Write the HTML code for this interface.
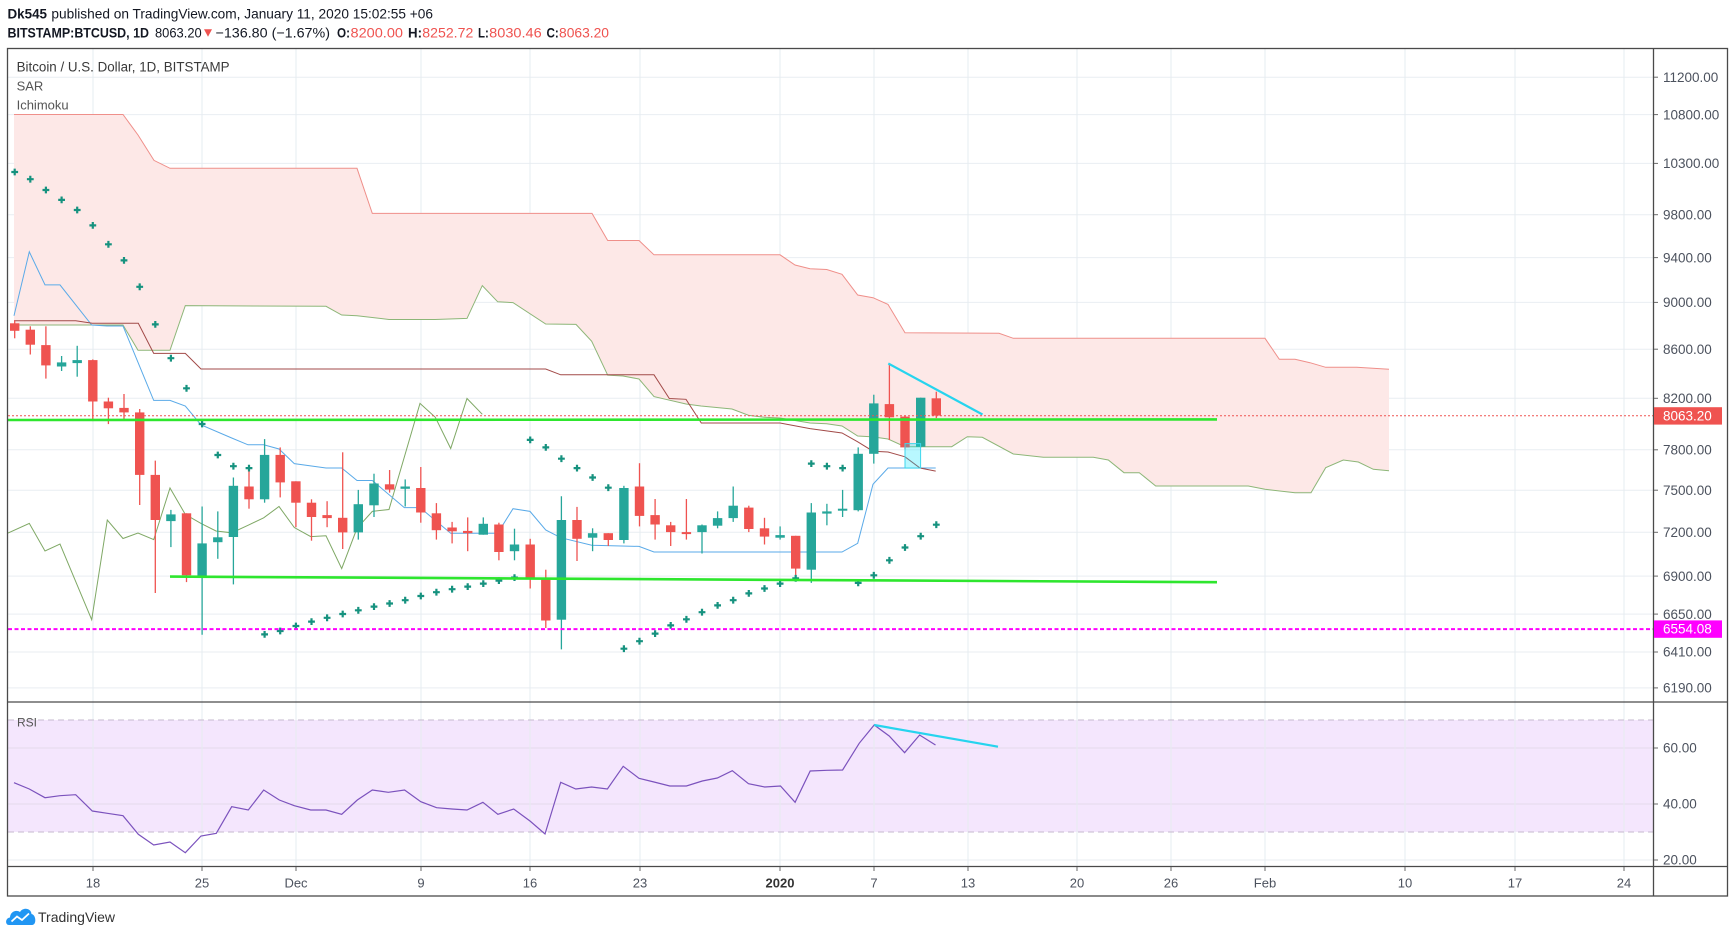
<!DOCTYPE html>
<html><head><meta charset="utf-8">
<style>
html,body{margin:0;padding:0;background:#fff;}
svg{display:block;}
.r line{stroke:#ef5350;stroke-width:1.3}
.r rect{fill:#ef5350}
.g line{stroke:#26a69a;stroke-width:1.3}
.g rect{fill:#26a69a}
.pl{font-size:13.5px;fill:#4c525e}
.tl{font-size:13px;fill:#4c525e;text-anchor:middle}
</style></head><body>
<svg width="1735" height="937" viewBox="0 0 1735 937" xmlns="http://www.w3.org/2000/svg" xmlns:xlink="http://www.w3.org/1999/xlink" font-family="'Liberation Sans', sans-serif">
<defs>
<clipPath id="cm"><rect x="8" y="49" width="1645.5" height="653"/></clipPath>
<clipPath id="cr"><rect x="8" y="702" width="1645.5" height="164.5"/></clipPath>
<path id="c" d="M-3.4,0h6.8M0,-3.4v6.8" stroke="#16927f" stroke-width="2.2" fill="none"/>
</defs>
<rect width="1735" height="937" fill="#fff"/>

<!-- header -->
<text x="7.5" y="18.5" font-size="14" font-weight="bold" fill="#131722" textLength="39.5" lengthAdjust="spacingAndGlyphs">Dk545</text>
<text x="51.4" y="18.5" font-size="14" fill="#131722" textLength="381.6" lengthAdjust="spacingAndGlyphs">published on TradingView.com, January 11, 2020 15:02:55 +06</text>
<g font-size="14">
<text x="7.5" y="37.5" font-weight="bold" fill="#131722" textLength="141.5" lengthAdjust="spacingAndGlyphs">BITSTAMP:BTCUSD, 1D</text>
<text x="155" y="37.5" fill="#131722" textLength="46.7" lengthAdjust="spacingAndGlyphs">8063.20</text>
<polygon points="204,29.3 212,29.3 208,36.8" fill="#ef5350"/>
<text x="215.5" y="37.5" fill="#131722" textLength="114.5" lengthAdjust="spacingAndGlyphs">−136.80 (−1.67%)</text>
<text x="337" y="37.5" font-weight="bold" fill="#131722" textLength="13" lengthAdjust="spacingAndGlyphs">O:</text>
<text x="350.5" y="37.5" fill="#ef5350" textLength="52.5" lengthAdjust="spacingAndGlyphs">8200.00</text>
<text x="408" y="37.5" font-weight="bold" fill="#131722" textLength="14" lengthAdjust="spacingAndGlyphs">H:</text>
<text x="422.3" y="37.5" fill="#ef5350" textLength="51" lengthAdjust="spacingAndGlyphs">8252.72</text>
<text x="478" y="37.5" font-weight="bold" fill="#131722" textLength="10.8" lengthAdjust="spacingAndGlyphs">L:</text>
<text x="489.2" y="37.5" fill="#ef5350" textLength="52.5" lengthAdjust="spacingAndGlyphs">8030.46</text>
<text x="546.5" y="37.5" font-weight="bold" fill="#131722" textLength="12.3" lengthAdjust="spacingAndGlyphs">C:</text>
<text x="559" y="37.5" fill="#ef5350" textLength="50" lengthAdjust="spacingAndGlyphs">8063.20</text>
</g>

<!-- gridlines -->
<g stroke="#e9eef2" stroke-width="1">
<line x1="8" x2="1653" y1="77.2" y2="77.2"/>
<line x1="8" x2="1653" y1="114.6" y2="114.6"/>
<line x1="8" x2="1653" y1="163.4" y2="163.4"/>
<line x1="8" x2="1653" y1="214.7" y2="214.7"/>
<line x1="8" x2="1653" y1="257.6" y2="257.6"/>
<line x1="8" x2="1653" y1="302.4" y2="302.4"/>
<line x1="8" x2="1653" y1="349.2" y2="349.2"/>
<line x1="8" x2="1653" y1="398.3" y2="398.3"/>
<line x1="8" x2="1653" y1="449.8" y2="449.8"/>
<line x1="8" x2="1653" y1="490.2" y2="490.2"/>
<line x1="8" x2="1653" y1="532.3" y2="532.3"/>
<line x1="8" x2="1653" y1="576.1" y2="576.1"/>
<line x1="8" x2="1653" y1="614.1" y2="614.1"/>
<line x1="8" x2="1653" y1="652" y2="652"/>
<line x1="8" x2="1653" y1="687.9" y2="687.9"/>
</g>

<!-- RSI band -->
<rect x="8" y="720" width="1645" height="112" fill="#f4e6fd"/>
<g stroke="#e3daea" stroke-width="1">
<line x1="8" x2="1653" y1="748" y2="748"/>
<line x1="8" x2="1653" y1="804" y2="804"/>
</g>
<line x1="8" x2="1653" y1="860" y2="860" stroke="#e9eef2"/>

<g stroke="#e6ecf0" stroke-width="1">
<line x1="93" x2="93" y1="49" y2="866"/>
<line x1="202" x2="202" y1="49" y2="866"/>
<line x1="296" x2="296" y1="49" y2="866"/>
<line x1="421" x2="421" y1="49" y2="866"/>
<line x1="530" x2="530" y1="49" y2="866"/>
<line x1="640" x2="640" y1="49" y2="866"/>
<line x1="780" x2="780" y1="49" y2="866"/>
<line x1="874" x2="874" y1="49" y2="866"/>
<line x1="968" x2="968" y1="49" y2="866"/>
<line x1="1077" x2="1077" y1="49" y2="866"/>
<line x1="1171" x2="1171" y1="49" y2="866"/>
<line x1="1265" x2="1265" y1="49" y2="866"/>
<line x1="1405" x2="1405" y1="49" y2="866"/>
<line x1="1515" x2="1515" y1="49" y2="866"/>
<line x1="1624" x2="1624" y1="49" y2="866"/>
</g>
<g stroke="#c6bacf" stroke-width="1" stroke-dasharray="6 4">
<line x1="8" x2="1653" y1="720" y2="720"/>
<line x1="8" x2="1653" y1="832" y2="832"/>
</g>

<g clip-path="url(#cm)">
<!-- cloud -->
<polygon fill="#fde8e7" points="14,114.5 123,114.5 138,135 154,160.4 170,168.3 357,168.3 372.3,213.4 592,213.4 607.7,240.5 639,240.5 654,254.8 780,254.8 795,265 810,268.7 826.7,269.5 842,274.3 857.7,295 873,297.7 888,304.4 905,332.7 999,333.3 1013.3,338.3 1265,338.3 1279.3,359.3 1295,359.3 1310,362.7 1325.7,367.3 1356.7,367.3 1389,369.3 1389,470.7 1373.3,469.3 1358.3,462 1343.3,460 1325.7,467.7 1311,492.7 1295,492.7 1265,489.3 1248.3,486 1155.7,486 1139.3,472.7 1124,472.7 1108.3,460 1093.3,457.3 1043.3,457.3 1013.3,454 982.3,437.3 967.3,436.7 951.7,446.7 905,446.7 888,439 873,436.9 857.7,436 842,426 826.7,423.7 810,423 780,418 764,417.3 748.7,415.4 732,409 701,406 686,404 654,396.6 639,379 623,376 607.7,375.2 591.7,341.3 576,324.4 545.7,324 513,302.6 497.7,301.8 482.3,285.6 467,318.4 435,319.5 389,319.5 357,315.7 341.7,315 326,306.3 185.3,305.6 170,350.3 138,350.3 123,325 14,325"/>
<polyline fill="none" stroke="#ef8f8a" stroke-width="1" points="14,114.5 123,114.5 138,135 154,160.4 170,168.3 357,168.3 372.3,213.4 592,213.4 607.7,240.5 639,240.5 654,254.8 780,254.8 795,265 810,268.7 826.7,269.5 842,274.3 857.7,295 873,297.7 888,304.4 905,332.7 999,333.3 1013.3,338.3 1265,338.3 1279.3,359.3 1295,359.3 1310,362.7 1325.7,367.3 1356.7,367.3 1389,369.3"/>
<polyline fill="none" stroke="#8db678" stroke-width="1" points="14,325 123,325 138,350.3 170,350.3 185.3,305.6 326,306.3 341.7,315 357,315.7 389,319.5 435,319.5 467,318.4 482.3,285.6 497.7,301.8 513,302.6 545.7,324 576,324.4 591.7,341.3 607.7,375.2 623,376 639,379 654,396.6 686,404 701,406 732,409 748.7,415.4 764,417.3 780,418 810,423 826.7,423.7 842,426 857.7,436 873,436.9 888,439 905,446.7 951.7,446.7 967.3,436.7 982.3,437.3 1013.3,454 1043.3,457.3 1093.3,457.3 1108.3,460 1124,472.7 1139.3,472.7 1155.7,486 1248.3,486 1265,489.3 1295,492.7 1311,492.7 1325.7,467.7 1343.3,460 1358.3,462 1373.3,469.3 1389,470.7"/>
<!-- chikou -->
<polyline fill="none" stroke="#7fa865" stroke-width="1" points="8,533 29.3,523.4 45,551 60,544 91.7,619.7 107.3,520 123,538.5 138,533 153.7,539.6 170,488 185.3,514.4 201,523.4 216,531 231.7,532.8 248,525.3 263.7,517.8 279,506.5 294.3,527.5 310.7,536.6 326,535.8 341.7,568.6 357,528.3 372.3,511.4 389,509.5 420,403.4 435.3,417.3 450.7,448.5 467,398.5 482.3,414.3"/>
<!-- tenkan -->
<polyline fill="none" stroke="#5aaae8" stroke-width="1" points="14,315.7 29.3,251.8 45,284.9 60,284.9 91.7,325 107,326 123,326 153.7,400.4 170,400.4 185.3,406 201,424.8 231.7,438 248,444.8 263.7,444.8 279,449 294.3,463.6 326,468 341.7,468 357,480.5 372.3,480.5 404.3,507.6 420,507.6 450.7,533.2 497.7,533.2 513,508.7 530,511.4 545.7,530 560.7,537.7 591.7,545.2 639,546.4 654,552 842,552 857.7,543.3 873,484.3 888,468 935.7,468"/>
<!-- kijun -->
<polyline fill="none" stroke="#a24a48" stroke-width="1" points="14,320.7 75.7,320.7 92.3,323.3 138.3,323.3 153.7,353.4 185.3,353.4 201,369 545.7,369 560.7,374.8 654,374.8 669.3,398.5 686,399.3 701.3,423 780,423 810,428.6 842,433 857.7,441.8 873,451.2 888,452 905,456.8 920,468 935.7,471.1"/>

<!-- candles red -->
<g class="r">
<line x1="14.7" x2="14.7" y1="320.2" y2="338.3"/><rect x="10" y="323.3" width="9.4" height="7.5"/>
<line x1="30.3" x2="30.3" y1="326.3" y2="354.5"/><rect x="25.6" y="329.7" width="9.4" height="15"/>
<line x1="45.9" x2="45.9" y1="326.3" y2="378.6"/><rect x="41.2" y="345.1" width="9.4" height="20.3"/>
<line x1="92.8" x2="92.8" y1="359.4" y2="421.1"/><rect x="88.1" y="360.1" width="9.4" height="41.4"/>
<line x1="108.4" x2="108.4" y1="397.7" y2="424.1"/><rect x="103.7" y="401.5" width="9.4" height="6.8"/>
<line x1="124" x2="124" y1="394" y2="419.9"/><rect x="119.3" y="407.9" width="9.4" height="4.5"/>
<line x1="139.7" x2="139.7" y1="409" y2="505"/><rect x="135" y="412.4" width="9.4" height="62.5"/>
<line x1="155.3" x2="155.3" y1="460.6" y2="593"/><rect x="150.6" y="474.9" width="9.4" height="45.1"/>
<line x1="186.5" x2="186.5" y1="513.3" y2="582.1"/><rect x="181.8" y="513.3" width="9.4" height="62"/>
<line x1="249" x2="249" y1="468.1" y2="508.7"/><rect x="244.3" y="486.5" width="9.4" height="12.8"/>
<line x1="280.2" x2="280.2" y1="447.4" y2="497.4"/><rect x="275.5" y="454.9" width="9.4" height="27.5"/>
<line x1="295.9" x2="295.9" y1="481.3" y2="527.2"/><rect x="291.2" y="481.3" width="9.4" height="21.4"/>
<line x1="311.5" x2="311.5" y1="499.3" y2="540.7"/><rect x="306.8" y="502.7" width="9.4" height="14.3"/>
<line x1="327.1" x2="327.1" y1="501.2" y2="527.2"/><rect x="322.4" y="515.1" width="9.4" height="3"/>
<line x1="342.7" x2="342.7" y1="452.3" y2="549"/><rect x="338" y="517.8" width="9.4" height="14.6"/>
<line x1="389.6" x2="389.6" y1="470" y2="492.6"/><rect x="384.9" y="484.3" width="9.4" height="5.3"/>
<line x1="420.8" x2="420.8" y1="467" y2="522.7"/><rect x="416.1" y="488" width="9.4" height="24.5"/>
<line x1="436.4" x2="436.4" y1="503.1" y2="539.6"/><rect x="431.7" y="513.3" width="9.4" height="16.9"/>
<line x1="452.1" x2="452.1" y1="521.9" y2="543.4"/><rect x="447.4" y="527.5" width="9.4" height="3.8"/>
<line x1="467.7" x2="467.7" y1="517.4" y2="551.2"/><rect x="463" y="530.9" width="9.4" height="2.3"/>
<line x1="498.9" x2="498.9" y1="522.7" y2="560.3"/><rect x="494.2" y="524.5" width="9.4" height="27.5"/>
<line x1="530.2" x2="530.2" y1="538.8" y2="588.5"/><rect x="525.5" y="544.5" width="9.4" height="33.1"/>
<line x1="545.8" x2="545.8" y1="569.7" y2="628"/><rect x="541.1" y="579.1" width="9.4" height="41.4"/>
<line x1="577" x2="577" y1="506.9" y2="561"/><rect x="572.3" y="520" width="9.4" height="18.8"/>
<line x1="608.3" x2="608.3" y1="533.2" y2="546"/><rect x="603.6" y="533.2" width="9.4" height="6.8"/>
<line x1="639.5" x2="639.5" y1="463.2" y2="526.4"/><rect x="634.8" y="486.5" width="9.4" height="29.4"/>
<line x1="655.1" x2="655.1" y1="499" y2="539.6"/><rect x="650.4" y="515.1" width="9.4" height="9.4"/>
<line x1="670.7" x2="670.7" y1="521.9" y2="546"/><rect x="666" y="525.3" width="9.4" height="6.8"/>
<line x1="686.4" x2="686.4" y1="499" y2="539.6"/><rect x="681.7" y="532.1" width="9.4" height="2"/>
<line x1="748.8" x2="748.8" y1="505.7" y2="532.1"/><rect x="744.1" y="507.6" width="9.4" height="21.4"/>
<line x1="764.5" x2="764.5" y1="517.8" y2="544.5"/><rect x="759.8" y="528.3" width="9.4" height="8.3"/>
<line x1="795.7" x2="795.7" y1="535.8" y2="579.1"/><rect x="791" y="535.8" width="9.4" height="32.8"/>
<line x1="889.4" x2="889.4" y1="363.5" y2="439.9"/><rect x="884.7" y="404.1" width="9.4" height="13.2"/>
<line x1="905" x2="905" y1="415.4" y2="449.3"/><rect x="900.3" y="416.6" width="9.4" height="30.8"/>
<line x1="936.3" x2="936.3" y1="391.7" y2="418.1"/><rect x="931.6" y="398.3" width="9.4" height="17.3"/>
</g>
<!-- candles green -->
<g class="g">
<line x1="61.6" x2="61.6" y1="356" y2="371"/><rect x="56.9" y="362.4" width="9.4" height="4.1"/>
<line x1="77.2" x2="77.2" y1="345.8" y2="376.7"/><rect x="72.5" y="360.1" width="9.4" height="3"/>
<line x1="170.9" x2="170.9" y1="509.9" y2="547.1"/><rect x="166.2" y="514.4" width="9.4" height="6.7"/>
<line x1="202.1" x2="202.1" y1="506.5" y2="634.8"/><rect x="197.4" y="543.4" width="9.4" height="32.7"/>
<line x1="217.8" x2="217.8" y1="511.4" y2="558.8"/><rect x="213.1" y="537.3" width="9.4" height="4.9"/>
<line x1="233.4" x2="233.4" y1="477.5" y2="584.4"/><rect x="228.7" y="485.8" width="9.4" height="51.2"/>
<line x1="264.6" x2="264.6" y1="439.1" y2="502.7"/><rect x="259.9" y="454.9" width="9.4" height="44.4"/>
<line x1="358.3" x2="358.3" y1="489.9" y2="539.6"/><rect x="353.6" y="504.2" width="9.4" height="28.2"/>
<line x1="374" x2="374" y1="473.7" y2="517"/><rect x="369.3" y="483.5" width="9.4" height="21.8"/>
<line x1="405.2" x2="405.2" y1="479.4" y2="506.5"/><rect x="400.5" y="486.5" width="9.4" height="2.3"/>
<line x1="483.3" x2="483.3" y1="517.4" y2="534.7"/><rect x="478.6" y="523.8" width="9.4" height="10.9"/>
<line x1="514.5" x2="514.5" y1="528.7" y2="560.3"/><rect x="509.8" y="544.5" width="9.4" height="6.7"/>
<line x1="561.4" x2="561.4" y1="496.3" y2="649.4"/><rect x="556.7" y="520" width="9.4" height="99.7"/>
<line x1="592.6" x2="592.6" y1="528.3" y2="551.2"/><rect x="587.9" y="533.2" width="9.4" height="4.5"/>
<line x1="623.9" x2="623.9" y1="485.8" y2="543.4"/><rect x="619.2" y="488" width="9.4" height="52"/>
<line x1="702" x2="702" y1="524.5" y2="553.5"/><rect x="697.3" y="525.3" width="9.4" height="6.8"/>
<line x1="717.6" x2="717.6" y1="511.4" y2="528.3"/><rect x="712.9" y="518.1" width="9.4" height="7.6"/>
<line x1="733.2" x2="733.2" y1="486.5" y2="521.9"/><rect x="728.5" y="505.7" width="9.4" height="12.4"/>
<line x1="780.1" x2="780.1" y1="526.4" y2="539.6"/><rect x="775.4" y="535.1" width="9.4" height="2.6"/>
<line x1="811.3" x2="811.3" y1="503.1" y2="582.9"/><rect x="806.6" y="512.5" width="9.4" height="57.2"/>
<line x1="826.9" x2="826.9" y1="503.8" y2="525.3"/><rect x="822.2" y="511.4" width="9.4" height="2.2"/>
<line x1="842.6" x2="842.6" y1="489.9" y2="517"/><rect x="837.9" y="508.7" width="9.4" height="2"/>
<line x1="858.2" x2="858.2" y1="447.4" y2="511.4"/><rect x="853.5" y="453.8" width="9.4" height="56.4"/>
<line x1="873.8" x2="873.8" y1="394.7" y2="463.6"/><rect x="869.1" y="403.4" width="9.4" height="50.4"/>
<line x1="920.7" x2="920.7" y1="397.7" y2="447.4"/><rect x="916" y="397.7" width="9.4" height="49"/>
</g>

<!-- SAR -->
<g>
<use xlink:href="#c" x="14.7" y="172"/><use xlink:href="#c" x="30.3" y="179.2"/><use xlink:href="#c" x="45.9" y="190"/><use xlink:href="#c" x="61.6" y="199.9"/><use xlink:href="#c" x="77.2" y="210"/><use xlink:href="#c" x="92.8" y="225.4"/><use xlink:href="#c" x="108.4" y="244.3"/><use xlink:href="#c" x="124" y="260.4"/><use xlink:href="#c" x="139.7" y="286.8"/><use xlink:href="#c" x="155.3" y="324.4"/><use xlink:href="#c" x="170.9" y="358.2"/><use xlink:href="#c" x="186.5" y="388.3"/><use xlink:href="#c" x="202.1" y="424"/><use xlink:href="#c" x="217.8" y="455"/><use xlink:href="#c" x="233.4" y="466.2"/><use xlink:href="#c" x="249" y="468.1"/>
<use xlink:href="#c" x="264.6" y="634.4"/><use xlink:href="#c" x="280.2" y="631"/><use xlink:href="#c" x="295.9" y="626"/><use xlink:href="#c" x="311.5" y="621.6"/><use xlink:href="#c" x="327.1" y="617.8"/><use xlink:href="#c" x="342.7" y="614"/><use xlink:href="#c" x="358.3" y="610.3"/><use xlink:href="#c" x="374" y="606.6"/><use xlink:href="#c" x="389.6" y="603.5"/><use xlink:href="#c" x="405.2" y="600.2"/><use xlink:href="#c" x="420.8" y="596"/><use xlink:href="#c" x="436.4" y="592.2"/><use xlink:href="#c" x="452.1" y="589.2"/><use xlink:href="#c" x="467.7" y="586.6"/><use xlink:href="#c" x="483.3" y="583.6"/><use xlink:href="#c" x="498.9" y="580.6"/><use xlink:href="#c" x="514.5" y="577.6"/>
<use xlink:href="#c" x="530.2" y="439.9"/><use xlink:href="#c" x="545.8" y="447.4"/><use xlink:href="#c" x="561.4" y="458.7"/><use xlink:href="#c" x="577" y="468.1"/><use xlink:href="#c" x="592.6" y="477.5"/><use xlink:href="#c" x="608.3" y="487.7"/>
<use xlink:href="#c" x="623.9" y="648.7"/><use xlink:href="#c" x="639.5" y="641.2"/><use xlink:href="#c" x="655.1" y="633.6"/><use xlink:href="#c" x="670.7" y="625.4"/><use xlink:href="#c" x="686.4" y="619.3"/><use xlink:href="#c" x="702" y="612.2"/><use xlink:href="#c" x="717.6" y="605.4"/><use xlink:href="#c" x="733.2" y="600.2"/><use xlink:href="#c" x="748.8" y="593.4"/><use xlink:href="#c" x="764.5" y="588.5"/><use xlink:href="#c" x="780.1" y="583.6"/><use xlink:href="#c" x="795.7" y="578.3"/>
<use xlink:href="#c" x="811.3" y="463.6"/><use xlink:href="#c" x="826.9" y="466.2"/><use xlink:href="#c" x="842.6" y="468.1"/>
<use xlink:href="#c" x="858.2" y="582.9"/><use xlink:href="#c" x="873.8" y="575.3"/><use xlink:href="#c" x="889.4" y="560.3"/><use xlink:href="#c" x="905" y="547.5"/><use xlink:href="#c" x="920.7" y="536.2"/><use xlink:href="#c" x="936.3" y="524.7"/>
</g>

<!-- drawings -->
<rect x="905" y="443.6" width="15.6" height="24.5" fill="rgba(0,229,255,0.28)" stroke="#3fd6ec" stroke-width="1"/>
<line x1="8" y1="420" x2="1217" y2="419.4" stroke="#2ee62e" stroke-width="2.6"/>
<line x1="170" y1="576.6" x2="1217" y2="582.2" stroke="#2ee62e" stroke-width="2.6"/>
<line x1="888.3" y1="363.5" x2="982.5" y2="414.5" stroke="#26d4ee" stroke-width="2.2"/>
<line x1="8" y1="629.1" x2="1653" y2="629.1" stroke="#ff00ff" stroke-width="2" stroke-dasharray="4 2.5"/>
<line x1="8" y1="415.8" x2="1653" y2="415.8" stroke="#ef5350" stroke-width="1" stroke-dasharray="2 2"/>
</g>

<!-- legend -->
<text x="16.6" y="71.5" font-size="13.5" fill="#3a3a3a" textLength="213" lengthAdjust="spacingAndGlyphs">Bitcoin / U.S. Dollar, 1D, BITSTAMP</text>
<text x="16.6" y="90.5" font-size="13" fill="#555">SAR</text>
<text x="16.6" y="109.5" font-size="13" fill="#555">Ichimoku</text>

<!-- RSI -->
<g clip-path="url(#cr)">
<polyline fill="none" stroke="#7b52bd" stroke-width="1.2" points="14,782.7 29.3,789 45,797.7 60,795.7 75.7,794.7 92.3,811 107.3,813.3 123,815.7 138.3,834.3 153.7,845 170,842 185.3,852.7 201,836 216.3,833.3 231.7,806.7 248.3,810 263.7,790 279.3,800 294.3,805.7 310.7,810 326,810 341.7,814.3 357.3,800 372.3,790 388.3,792.3 404.6,790 420.8,801.7 436.6,807.7 452,809 467,810 482.9,802.3 497.9,814.3 513.7,809 530,821 545,834 560.7,782.3 575.8,789 591.6,787 607.4,789 623.2,766.3 639,778.3 654,782 669.8,786 686.4,786 702.3,781 717.3,778 732.3,770.7 748.5,783.7 764.7,787 780.5,786 795.1,802.3 810.2,771 826.8,770.3 842.6,770 859.2,743.3 874.2,725 889.2,736 904.6,752.7 919.6,735 935.5,745"/>
<line x1="874.2" y1="725" x2="998" y2="746.7" stroke="#26d4ee" stroke-width="2.2"/>
</g>
<text x="17" y="726.5" font-size="12" fill="#555">RSI</text>

<!-- frame -->
<g stroke="#4a4a4a" stroke-width="1.3" fill="none">
<rect x="7.5" y="48.5" width="1720" height="847.5"/>
<line x1="7.5" x2="1727.5" y1="702" y2="702"/>
<line x1="7.5" x2="1727.5" y1="866.5" y2="866.5"/>
<line x1="1653.5" x2="1653.5" y1="48.5" y2="896"/>
</g>

<!-- price ticks -->
<g stroke="#6a6a6a" stroke-width="1">
<line x1="1654" x2="1658" y1="77.2" y2="77.2"/><line x1="1654" x2="1658" y1="114.6" y2="114.6"/><line x1="1654" x2="1658" y1="163.4" y2="163.4"/><line x1="1654" x2="1658" y1="214.7" y2="214.7"/><line x1="1654" x2="1658" y1="257.6" y2="257.6"/><line x1="1654" x2="1658" y1="302.4" y2="302.4"/><line x1="1654" x2="1658" y1="349.2" y2="349.2"/><line x1="1654" x2="1658" y1="398.3" y2="398.3"/><line x1="1654" x2="1658" y1="449.8" y2="449.8"/><line x1="1654" x2="1658" y1="490.2" y2="490.2"/><line x1="1654" x2="1658" y1="532.3" y2="532.3"/><line x1="1654" x2="1658" y1="576.1" y2="576.1"/><line x1="1654" x2="1658" y1="614.1" y2="614.1"/><line x1="1654" x2="1658" y1="652" y2="652"/><line x1="1654" x2="1658" y1="687.9" y2="687.9"/>
<line x1="1654" x2="1658" y1="748" y2="748"/><line x1="1654" x2="1658" y1="804" y2="804"/><line x1="1654" x2="1658" y1="860" y2="860"/>
<line x1="93" x2="93" y1="867" y2="871"/><line x1="202" x2="202" y1="867" y2="871"/><line x1="296" x2="296" y1="867" y2="871"/><line x1="421" x2="421" y1="867" y2="871"/><line x1="530" x2="530" y1="867" y2="871"/><line x1="640" x2="640" y1="867" y2="871"/><line x1="780" x2="780" y1="867" y2="871"/><line x1="874" x2="874" y1="867" y2="871"/><line x1="968" x2="968" y1="867" y2="871"/><line x1="1077" x2="1077" y1="867" y2="871"/><line x1="1171" x2="1171" y1="867" y2="871"/><line x1="1265" x2="1265" y1="867" y2="871"/><line x1="1405" x2="1405" y1="867" y2="871"/><line x1="1515" x2="1515" y1="867" y2="871"/><line x1="1624" x2="1624" y1="867" y2="871"/>
</g>
<g class="pl">
<text x="1663" y="81.9">11200.00</text>
<text x="1663" y="119.3">10800.00</text>
<text x="1663" y="168.1">10300.00</text>
<text x="1663" y="219.4">9800.00</text>
<text x="1663" y="262.3">9400.00</text>
<text x="1663" y="307.1">9000.00</text>
<text x="1663" y="353.9">8600.00</text>
<text x="1663" y="403">8200.00</text>
<text x="1663" y="454.5">7800.00</text>
<text x="1663" y="494.9">7500.00</text>
<text x="1663" y="537">7200.00</text>
<text x="1663" y="580.8">6900.00</text>
<text x="1663" y="618.8">6650.00</text>
<text x="1663" y="656.7">6410.00</text>
<text x="1663" y="692.6">6190.00</text>
<text x="1663" y="752.7">60.00</text>
<text x="1663" y="808.7">40.00</text>
<text x="1663" y="864.5">20.00</text>
</g>
<rect x="1654" y="407.2" width="68" height="17.4" fill="#ef5350"/>
<text x="1663" y="420.5" font-size="13.5" fill="#fff">8063.20</text>
<rect x="1654" y="620.4" width="68" height="17.4" fill="#ff00ff"/>
<text x="1663" y="633.7" font-size="13.5" fill="#fff">6554.08</text>

<!-- time labels -->
<g class="tl">
<text x="93" y="887.5">18</text>
<text x="202" y="887.5">25</text>
<text x="296" y="887.5">Dec</text>
<text x="421" y="887.5">9</text>
<text x="530" y="887.5">16</text>
<text x="640" y="887.5">23</text>
<text x="780" y="887.5" font-weight="bold" fill="#333">2020</text>
<text x="874" y="887.5">7</text>
<text x="968" y="887.5">13</text>
<text x="1077" y="887.5">20</text>
<text x="1171" y="887.5">26</text>
<text x="1265" y="887.5">Feb</text>
<text x="1405" y="887.5">10</text>
<text x="1515" y="887.5">17</text>
<text x="1624" y="887.5">24</text>
</g>

<!-- logo -->
<path d="M9,925 C5,925 5,918 10,917.5 C10,912 16,909 20,912 C23,907 31,908 31.5,914 C36,914.5 37,925 32,925 Z" fill="#2196f3"/>
<polyline points="11.5,921.5 17,916.5 22,920 29,913.5" fill="none" stroke="#fff" stroke-width="1.8"/>
<text x="38" y="921.8" font-size="14" fill="#333">TradingView</text>
</svg>
</body></html>
